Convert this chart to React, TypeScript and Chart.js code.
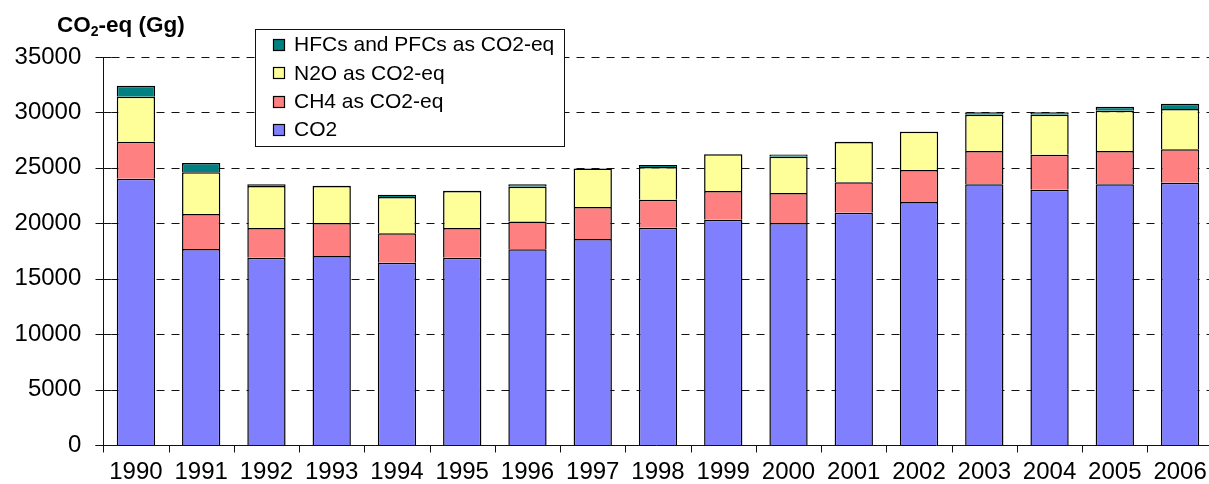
import React, { useEffect, useRef } from "react";
import { Chart, registerables } from "chart.js";

Chart.register(...registerables);

const years = ["1990", "1991", "1992", "1993", "1994", "1995", "1996", "1997", "1998", "1999", "2000", "2001", "2002", "2003", "2004", "2005", "2006"];
const co2 = [24020, 17680, 16900, 17050, 16440, 16900, 17650, 18580, 19600, 20320, 20020, 20950, 21920, 23510, 23030, 23510, 23660];
const ch4 = [3340, 3150, 2670, 2970, 2650, 2670, 2520, 2890, 2530, 2590, 2710, 2750, 2880, 3010, 3160, 3010, 3010];
const n2o = [4060, 3770, 3790, 3340, 3280, 3340, 3130, 3480, 2950, 3310, 3280, 3630, 3460, 3270, 3600, 3640, 3640];
const hfc = [990, 840, 150, 20, 200, 20, 210, 20, 180, 20, 200, 20, 20, 220, 220, 360, 480];

const seriesLabels = ["CO2", "CH4 as CO2-eq", "N2O as CO2-eq", "HFCs and PFCs as CO2-eq"];
const seriesColors = ["#8080FF", "#FF8080", "#FFFF99", "#008080"];
const yTickValues = [0, 5000, 10000, 15000, 20000, 25000, 30000, 35000];
const titleMain = "CO";
const titleSub = "2";
const titleRest = "-eq (Gg)";

const FONT = "'Liberation Sans', Arial, Helvetica, sans-serif";

const axesPlugin = {
  id: "excelAxes",
  beforeDatasetsDraw(chart: any) {
    const { ctx, chartArea, scales } = chart;
    const y = scales.y;
    const ax = Math.round(chartArea.left) + 0.5;
    ctx.save();
    ctx.strokeStyle = "#111";
    ctx.lineWidth = 1;
    ctx.setLineDash([8, 7]);
    for (const v of yTickValues) {
      if (v === 0) continue;
      const py = Math.round(y.getPixelForValue(v)) + 0.5;
      ctx.beginPath();
      ctx.moveTo(ax + 8, py);
      ctx.lineTo(chartArea.right + 10, py);
      ctx.stroke();
    }
    ctx.restore();
  },
  afterDatasetsDraw(chart: any) {
    const { ctx, chartArea, scales } = chart;
    const x = scales.x;
    const y = scales.y;
    const ax = Math.round(chartArea.left) + 0.5;
    const by = Math.round(y.getPixelForValue(0)) + 0.5;
    const top = Math.round(y.getPixelForValue(35000)) + 0.5;
    ctx.save();
    ctx.strokeStyle = "#111";
    ctx.lineWidth = 1;
    ctx.setLineDash([]);
    ctx.beginPath();
    ctx.moveTo(ax, top);
    ctx.lineTo(ax, by + 7);
    ctx.stroke();
    for (const v of yTickValues) {
      const py = Math.round(y.getPixelForValue(v)) + 0.5;
      ctx.beginPath();
      ctx.moveTo(ax - 8, py);
      ctx.lineTo(ax + 8, py);
      ctx.stroke();
    }
    ctx.beginPath();
    ctx.moveTo(ax - 8, by);
    ctx.lineTo(chartArea.right + 10, by);
    ctx.stroke();
    const n = years.length;
    const step = x.getPixelForValue(1) - x.getPixelForValue(0);
    for (let k = 1; k <= n; k++) {
      const px = Math.round(x.getPixelForValue(k - 1) + step / 2) + 0.5;
      ctx.beginPath();
      ctx.moveTo(px, by);
      ctx.lineTo(px, by + 7);
      ctx.stroke();
    }
    ctx.restore();
  },
};

const overlayPlugin = {
  id: "overlay",
  afterDraw(chart: any) {
    const { ctx } = chart;
    ctx.save();
    ctx.fillStyle = "#000";
    ctx.textBaseline = "alphabetic";
    ctx.textAlign = "left";
    ctx.font = `bold 22.5px ${FONT}`;
    let tx = 57;
    ctx.fillText(titleMain, tx, 32);
    tx += ctx.measureText(titleMain).width;
    ctx.font = `bold 14px ${FONT}`;
    ctx.fillText(titleSub, tx, 36);
    tx += ctx.measureText(titleSub).width;
    ctx.font = `bold 22.5px ${FONT}`;
    ctx.fillText(titleRest, tx, 32);

    const bx = 255.5, byy = 29.5, bw = 309, bh = 117;
    ctx.fillStyle = "#fff";
    ctx.fillRect(bx, byy, bw, bh);
    ctx.strokeStyle = "#111";
    ctx.lineWidth = 1;
    ctx.strokeRect(bx, byy, bw, bh);
    const ds = chart.data.datasets;
    ctx.font = `21px ${FONT}`;
    ctx.textBaseline = "middle";
    for (let i = 0; i < ds.length; i++) {
      const d = ds[ds.length - 1 - i];
      const cy = 44.5 + i * 28.4;
      const sx = 273.5, sy = Math.round(cy - 5.5) + 0.5;
      ctx.fillStyle = d.backgroundColor;
      ctx.fillRect(sx, sy, 11, 11);
      ctx.strokeStyle = "#000";
      ctx.lineWidth = 1.2;
      ctx.strokeRect(sx, sy, 11, 11);
      ctx.fillStyle = "#000";
      ctx.fillText(d.label, 294, cy + 1);
    }
    ctx.restore();
  },
};

export default function App() {
  const ref = useRef<HTMLCanvasElement>(null);
  useEffect(() => {
    const canvas = ref.current;
    if (!canvas) return;
    const series = [co2, ch4, n2o, hfc];
    const chart = new Chart(canvas, {
      type: "bar",
      data: {
        labels: years,
        datasets: series.map((d, i) => ({
          label: seriesLabels[i],
          data: d,
          backgroundColor: seriesColors[i],
          borderColor: "#000",
          borderWidth: 1.5,
          barPercentage: 0.587,
          categoryPercentage: 1,
        })),
      },
      options: {
        responsive: false,
        animation: false,
        devicePixelRatio: 1,
        layout: { padding: { top: 57, left: 0, right: 3.3, bottom: 0 } },
        plugins: { legend: { display: false }, tooltip: { enabled: false }, title: { display: false } },
        scales: {
          x: {
            stacked: true,
            grid: { display: false, drawTicks: false },
            border: { display: false },
            ticks: { color: "#000", font: { family: FONT, size: 24 }, padding: 13, maxRotation: 0, autoSkip: false },
            afterFit: (s: any) => {
              s.height = 39;
              s.paddingLeft = 0;
              s.paddingRight = 0;
            },
          },
          y: {
            stacked: true,
            min: 0,
            max: 35000,
            grid: { display: false, drawTicks: false },
            border: { display: false },
            ticks: {
              stepSize: 5000,
              color: "#000",
              font: { family: FONT, size: 24 },
              padding: 22,
              callback: (v: any) => String(v),
            },
            afterFit: (s: any) => {
              s.width = 103.3;
              s.paddingTop = 0;
              s.paddingBottom = 0;
            },
          },
        },
      },
      plugins: [axesPlugin, overlayPlugin],
    } as any);
    return () => chart.destroy();
  }, []);

  return (
    <div style={{ position: "fixed", left: 0, top: 0, width: 1209, height: 484, overflow: "hidden", background: "#fff" }}>
      <canvas ref={ref} width={1216} height={484} style={{ width: 1216, height: 484, display: "block" }} />
    </div>
  );
}
